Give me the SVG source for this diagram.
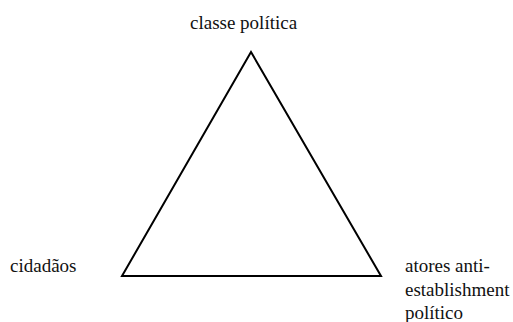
<svg xmlns="http://www.w3.org/2000/svg" width="513" height="322" viewBox="0 0 513 322">
<style>
svg text, g text, text { font-family: 'Liberation Serif', 'Times New Roman', serif !important; font-size: 19px; fill: #111; }
.edge { fill: none; stroke: #000; stroke-width: 2; }
</style>
<rect width="513" height="322" fill="#fff"/>
<g id="connectors">
<path class="edge" d="M251,52 L122,276 L381,276 Z"/>
</g>
<g id="node-classe"><text x="190" y="29" font-family="'Liberation Serif'" style="font-family:'Liberation Serif',serif !important">classe política</text></g>
<g id="node-cidadaos"><text x="10" y="272" font-family="'Liberation Serif'" style="font-family:'Liberation Serif',serif !important">cidadãos</text></g>
<g id="node-atores"><text x="405" y="272" font-family="'Liberation Serif'" style="font-family:'Liberation Serif',serif !important">atores anti-</text><text x="405" y="296" font-family="'Liberation Serif'" style="font-family:'Liberation Serif',serif !important">establishment</text><text x="405" y="319" font-family="'Liberation Serif'" style="font-family:'Liberation Serif',serif !important">político</text></g>
</svg>
